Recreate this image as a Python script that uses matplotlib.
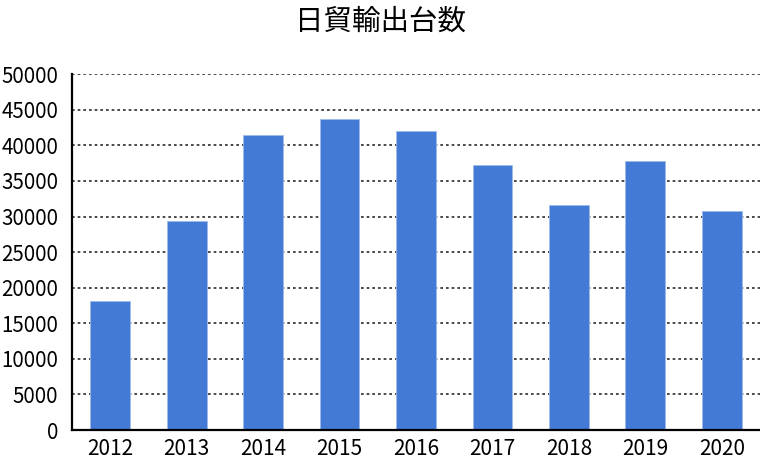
import matplotlib.pyplot as plt

plt.rcParams['font.family'] = ['Noto Sans CJK JP', 'DejaVu Sans']

years = ["2012", "2013", "2014", "2015", "2016", "2017", "2018", "2019", "2020"]
exports = [18150, 29400, 41450, 43700, 42000, 37200, 31650, 37800, 30750]
y_ticks = [0, 5000, 10000, 15000, 20000, 25000, 30000, 35000, 40000, 45000, 50000]

fig = plt.figure(figsize=(7.6, 4.67), dpi=100)
ax = fig.add_axes([0.0947, 0.0792, 0.9053, 0.762])

ax.bar(range(len(years)), exports, width=0.52, color="#427ad5",
       edgecolor="#9dbbea", linewidth=0.6, zorder=2)

ax.set_xlim(-0.5, len(years) - 0.5)
ax.set_ylim(0, 50000)
ax.set_yticks(y_ticks)
ax.set_xticks(range(len(years)))
ax.set_xticklabels(years)

ax.yaxis.grid(True, color="#2a2a2a", linestyle=(0, (1.6, 1.8)), linewidth=1.2, zorder=0)
ax.set_axisbelow(True)

for side in ["top", "right"]:
    ax.spines[side].set_visible(False)
for side in ["left", "bottom"]:
    ax.spines[side].set_linewidth(1.6)
    ax.spines[side].set_color("black")

ax.tick_params(axis="y", length=0, pad=10, labelsize=14.8)
ax.tick_params(axis="x", length=0, pad=6, labelsize=15)

fig.text(0.5, 0.953, "日貿輸出台数", fontsize=20.5, ha="center", va="center")

fig.savefig("out.png", dpi=100)
